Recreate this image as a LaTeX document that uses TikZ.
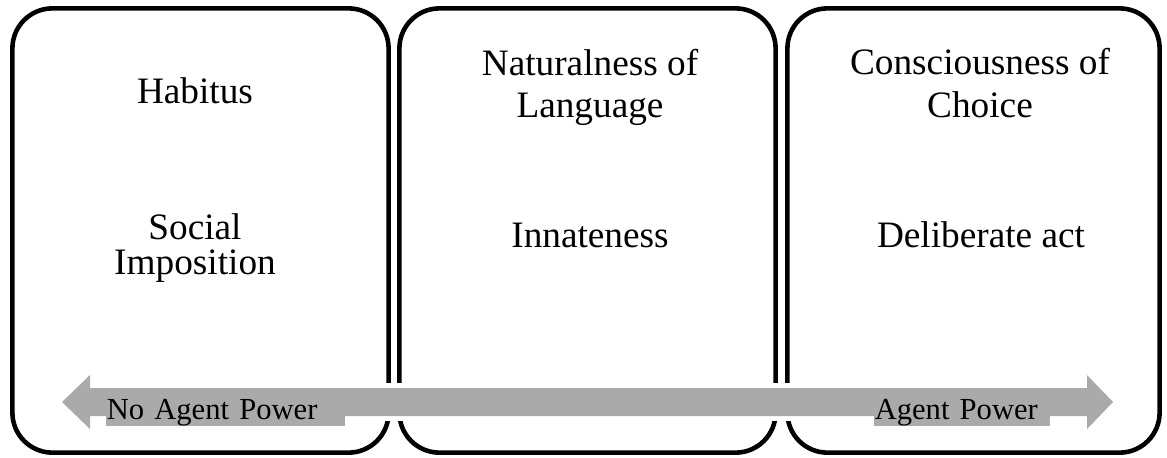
\documentclass[tikz,border=0pt]{standalone}
\usepackage{fontspec}
\setmainfont{Liberation Serif}
\definecolor{arrowgray}{RGB}{170,170,170}
\begin{document}
\begin{tikzpicture}[x=0.01cm, y=-0.01cm,
    panel/.style={draw, line width=1.3pt, rounded corners=0.4cm,
      minimum width=3.76cm, minimum height=4.44cm},
    title/.style={align=center, font=\fontsize{10.6}{12}\selectfont},
    power/.style={fill=arrowgray, anchor=base west, inner xsep=0.3pt, inner ysep=0pt,
      text height=8.8pt, text depth=2pt, align=left, font=\fontsize{8.7}{10}\selectfont}]
    \useasboundingbox (0,0) rectangle (1167,457);

    % three panels
    \node[panel] (habitus) at (200.5,230.5) {};
    \node[panel] (nature) at (587.5,230.5) {};
    \node[panel, minimum width=3.72cm] (choice) at (973.5,230.5) {};

    % agent power scale, with a white rim cutting the panel borders
    \fill[arrowgray, preaction={draw=white, line width=2.8pt}]
        (62,402) -- (90,375) -- (90,388) -- (1087,388) -- (1087,375) -- (1113,402)
        -- (1087,429) -- (1087,416) -- (90,416) -- (90,429) -- cycle;
    \node[power, text width=2.37cm] (noagent) at (105,419) {No Agent Power};
    \node[power, text width=1.74cm] (agent) at (873,419) {Agent Power};

    % panel texts
    \node[title, anchor=base] (habitusT) at (195,103) {Habitus};
    \node[title, font=\fontsize{10.6}{9.7}\selectfont] (social) at (195,248) {Social\\Imposition};
    \node[title] (natureT) at (590,87) {Naturalness of\\Language};
    \node[title, anchor=base] (innate) at (590,247) {Innateness};
    \node[title] (choiceT) at (980,83) {Consciousness of\\Choice};
    \node[title, anchor=base] (deliberate) at (981,247) {Deliberate act};
\end{tikzpicture}
\end{document}
